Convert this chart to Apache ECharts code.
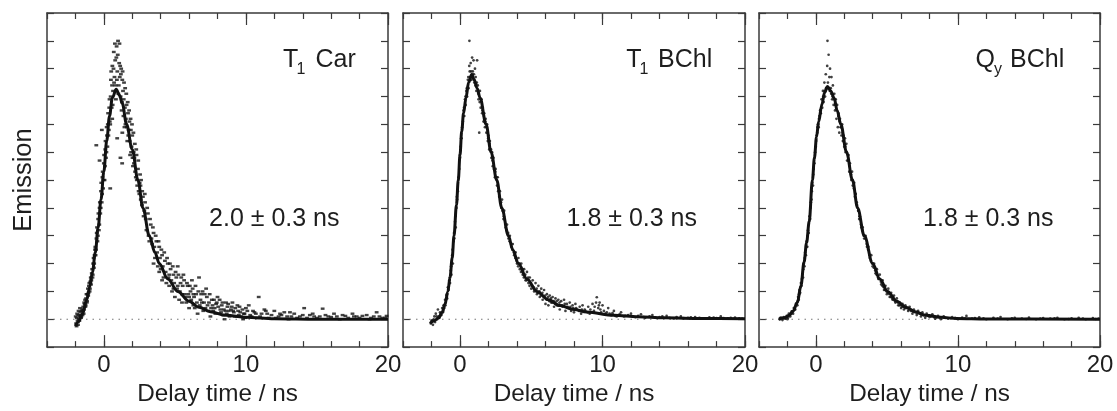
<!DOCTYPE html>
<html><head><meta charset="utf-8">
<script src="https://cdn.jsdelivr.net/npm/echarts@6/dist/echarts.min.js"></script>
<style>html,body{margin:0;padding:0;background:#fff}#c{width:1117px;height:411px}</style>
</head><body><div id="c"></div>
<script>
const FONT = '"Liberation Sans", Arial, Helvetica, sans-serif';
const majorTicks = [0, 10, 20];
const xName = 'Delay time / ns';
const yName = 'Emission';
const stateMain = ['T', 'T', 'Q'];
const stateSub = ['1', '1', 'y'];
const stateRest = ['Car', 'BChl', 'BChl'];
const lifetimes = ['2.0 ± 0.3 ns', '1.8 ± 0.3 ns', '1.8 ± 0.3 ns'];

const carFit = [[-2,-0.25],[-1.8,-0.1],[-1.5,0.2],[-1.2,0.7],[-1.0,1.15],[-0.8,1.7],[-0.6,2.4],[-0.4,3.3],[-0.2,4.3],[0,5.3],[0.2,6.4],[0.4,7.3],[0.6,7.95],[0.87,8.26],[1.1,8.05],[1.3,7.75],[1.6,7.0],[2.0,6.1],[2.4,5.0],[2.75,4.0],[3.2,3.0],[3.6,2.4],[3.9,2.0],[4.5,1.45],[5.2,1.0],[6.0,0.65],[6.7,0.43],[7.5,0.27],[8.6,0.14],[10,0.07],[12,0.02],[15,0],[20,0]];
const carPoints = [[-1.95,-0.15],[-1.9,0.05],[-1.85,-0.05],[-1.8,0.15],[-1.75,0.0],[-1.7,0.1],[-1.65,0.25],[-1.6,0.05],[-1.55,0.3],[-1.5,0.15],[-1.45,0.45],[-1.4,0.35],[-1.35,0.55],[-1.3,0.45],[-1.25,0.75],[-1.2,0.6],[-1.15,0.9],[-1.1,0.85],[-1.05,1.2],[-1.0,1.0],[-0.95,1.35],[-0.9,1.25],[-0.85,1.65],[-0.8,1.5],[-0.75,2.0],[-0.7,1.85],[-0.65,2.3],[-0.6,2.6],[-0.55,2.5],[-0.5,3.1],[-0.45,2.8],[-0.4,3.6],[-0.35,3.2],[-0.3,4.0],[-0.25,3.8],[-0.2,4.6],[-0.15,4.2],[-0.1,5.1],[-0.05,4.7],[0.0,5.6],[0.05,5.0],[0.1,6.1],[0.15,5.8],[0.2,6.9],[0.25,6.2],[0.3,7.4],[0.35,6.8],[0.4,7.9],[0.45,7.0],[0.5,8.6],[0.55,7.6],[0.6,9.1],[0.65,8.2],[0.7,9.6],[0.75,8.7],[0.8,9.3],[0.85,7.9],[0.9,9.8],[0.95,8.9],[1.0,10.0],[1.05,8.4],[1.1,9.9],[1.15,9.1],[1.2,8.8],[1.25,7.5],[1.3,8.6],[1.35,8.2],[1.4,7.9],[1.45,6.9],[1.5,8.3],[1.55,7.2],[1.6,7.7],[1.65,6.4],[1.7,7.4],[1.75,6.8],[1.8,7.1],[1.85,5.9],[1.9,6.8],[1.95,6.2],[2.0,6.6],[2.05,5.5],[2.1,6.0],[2.15,5.8],[2.2,5.3],[2.3,5.9],[2.35,4.8],[2.4,5.4],[2.5,4.5],[2.55,5.2],[2.6,4.3],[2.7,4.6],[2.8,3.7],[2.9,4.2],[3.0,3.2],[3.1,3.8],[3.2,2.8],[3.3,3.4],[3.4,2.7],[3.5,3.1],[3.6,2.2],[3.7,2.8],[3.8,1.9],[3.9,2.6],[4.0,1.8],[4.1,2.3],[4.2,1.5],[4.3,2.1],[4.4,1.3],[4.5,2.0],[4.6,1.2],[4.7,1.8],[4.8,1.0],[4.9,1.6],[5.0,0.8],[5.1,1.5],[5.2,1.9],[5.3,0.7],[5.4,1.3],[5.5,0.9],[5.6,1.6],[5.8,0.6],[5.9,1.2],[6.0,0.4],[6.1,1.0],[6.2,1.4],[6.3,0.5],[6.5,0.9],[6.6,0.2],[6.7,1.5],[6.8,0.7],[7.0,0.3],[7.1,0.9],[7.2,1.1],[7.3,0.5],[7.5,0.1],[7.6,0.7],[7.8,0.4],[8.0,0.8],[8.1,0.2],[8.3,0.5],[8.5,0.0],[8.6,0.6],[8.8,0.3],[9.0,0.45],[9.2,0.1],[9.4,0.5],[9.6,0.25],[9.8,0.0],[10.0,0.4],[10.3,0.15],[10.5,0.3],[10.9,0.8],[11.0,0.1],[11.3,0.35],[11.6,0.05],[12.0,0.3],[12.3,0.1],[12.7,0.25],[13.0,0.0],[13.4,0.2],[13.8,0.1],[14.1,0.4],[14.5,0.15],[15.0,0.05],[15.4,0.38],[15.8,0.1],[16.2,0.2],[16.6,0.0],[17.0,0.12],[17.5,0.2],[18.0,0.05],[18.5,0.15],[19.0,0.1],[19.2,0.25],[19.6,0.05],[19.9,0.12],[0.45,4.7],[1.17,5.8],[1.29,5.6],[0.94,6.5],[0.59,7.2],[1.3,6.7],[-0.53,6.25],[-0.14,6.8],[-0.3,5.7],[3.5,2.0],[3.9,1.7],[4.1,1.4],[4.6,1.6],[4.9,1.1],[5.2,1.2],[5.5,0.6],[5.7,0.9],[6.0,0.8],[6.3,0.9],[6.4,0.4],[6.9,0.6],[7.4,0.6],[7.7,0.3],[7.9,0.55],[8.2,0.35],[8.4,0.15],[8.7,0.45],[9.1,0.3],[9.5,0.15],[9.9,0.2],[10.2,0.5],[10.7,0.2],[11.5,0.2],[12.5,0.15],[13.2,0.1],[14.8,0.1],[16.0,0.08],[17.8,0.1],[18.8,0.05],
[-1.98,0.1],[-1.92,-0.25],[-1.88,0.2],[-1.82,-0.2],[-1.78,0.3],[-1.72,-0.05],[-1.68,0.4],[-1.62,0.15],[-1.58,0.1],[-1.52,0.35],[-1.48,0.3],[-1.42,0.2],[-1.38,0.6],[-1.32,0.7],[-1.28,0.5],[-1.22,0.9],[-1.18,0.65],[-1.12,1.1],[-1.08,0.95],[-1.02,1.3],[-0.98,1.1],[-0.92,1.5],[-0.88,1.4],[-0.82,1.8],[-0.78,1.6],[-0.72,2.2],[-0.68,2.0],[-0.62,2.5],[-0.58,2.3],[-0.52,2.9],[-0.48,3.3],[-0.42,3.0],[-0.38,3.8],[-0.32,3.4],[-0.28,4.2],[-0.22,4.0],[-0.18,4.9],[-0.12,4.5],[-0.08,5.3],[-0.02,5.0],[0.02,5.9],[0.08,5.5],[0.12,6.4],[0.18,6.0],[0.22,6.6],[0.28,7.0],[0.32,6.6],[0.38,7.6],[0.42,7.1],[0.48,8.0],[0.52,8.9],[0.58,8.4],[0.62,7.7],[0.68,9.0],[0.72,8.5],[0.78,9.9],[0.82,8.4],[0.88,9.4],[0.92,8.6],[0.98,9.5],[1.02,8.1],[1.08,9.2],[1.12,8.7],[1.18,8.0],[1.22,9.0],[1.28,7.8],[1.32,8.9],[1.38,7.3],[1.42,8.5],[1.48,7.6],[1.52,7.0],[1.58,8.1],[1.62,6.9],[1.68,7.8],[1.72,6.6],[1.78,7.5],[1.82,6.4],[1.88,7.2],[1.92,6.0],[1.98,7.0],[2.02,5.8],[2.08,6.7],[2.12,5.6],[2.18,6.3],[2.25,5.1],[2.28,6.1],[2.32,5.0],[2.42,5.7],[2.45,4.6],[2.52,4.9],[2.58,4.8],[2.62,5.0],[2.68,4.1],[2.75,4.4],[2.85,3.9],[2.88,4.5],[2.95,3.6],[3.05,4.0],[3.15,3.0],[3.25,3.6],[3.35,2.9],[3.45,3.3],[3.55,2.6],[3.65,3.0],[3.75,2.4],[3.85,2.8],[3.95,2.2],[4.05,2.5],[4.15,1.9],[4.25,2.4],[4.35,1.7],[4.45,2.2],[4.55,1.5],[4.65,2.0],[4.75,1.4],[4.85,1.9],[4.95,1.3],[5.05,1.7],[5.15,1.1],[5.25,1.6],[5.35,1.0],[5.45,1.5],[5.55,1.2],[5.65,1.4],[5.75,0.8],[5.85,1.3],[5.95,0.9],[6.05,1.2],[6.15,0.7],[6.25,1.1],[6.35,0.8],[6.45,1.2],[6.55,0.6],[6.65,1.0],[6.75,0.5],[6.85,0.9],[6.95,1.0],[7.05,0.6],[7.15,0.4],[7.25,0.8],[7.35,0.3],[7.45,0.9],[7.55,0.4],[7.65,0.5],[7.75,0.7],[7.85,0.2],[7.95,0.6],[8.05,0.45],[8.15,0.7],[8.25,0.25],[8.35,0.6],[8.45,0.35],[8.55,0.3],[8.65,0.2],[8.75,0.55],[8.85,0.1],[8.95,0.35],[9.05,0.6],[9.15,0.25],[9.25,0.4],[9.35,0.1],[9.45,0.3],[9.55,0.45],[9.65,0.1],[9.75,0.35],[9.85,0.2],[9.95,0.05],[10.1,0.3],[10.4,0.1],[10.6,0.25],[10.8,0.05],[11.1,0.2],[11.4,0.3],[11.8,0.15],[12.1,0.05],[12.4,0.2],[12.9,0.1],[13.1,0.25],[13.6,0.05],[14.0,0.15],[14.3,0.05],[14.7,0.2],[15.2,0.1],[15.6,0.15],[16.4,0.1],[16.8,0.15],[17.2,0.05],[17.6,0.1],[18.2,0.12],[18.7,0.0],[19.4,0.1],[19.8,0.05]];

const bchlFit = [[-2.1,-0.15],[-1.8,-0.05],[-1.5,0.05],[-1.25,0.25],[-1.05,0.55],[-0.85,1.0],[-0.7,1.5],[-0.55,2.2],[-0.42,3.0],[-0.25,4.1],[-0.12,5.0],[0,5.9],[0.12,6.75],[0.25,7.4],[0.42,7.95],[0.6,8.5],[0.82,8.79],[1.0,8.6],[1.2,8.3],[1.41,7.95],[1.83,7.0],[2.18,6.0],[2.58,5.0],[2.93,4.0],[3.4,3.0],[3.7,2.5],[4.1,2.0],[4.7,1.45],[5.39,1.0],[6.2,0.7],[7.03,0.49],[8.0,0.35],[8.9,0.26],[10.8,0.14],[12.5,0.09],[14.3,0.05],[17,0.03],[20,0.02]];
const bchlPoints = [[-2.05,-0.15],[-1.95,-0.05],[-1.9,-0.2],[-1.8,0.1],[-1.75,-0.1],[-1.7,0.2],[-1.6,0.0],[-1.55,0.35],[-1.5,0.1],[-1.45,0.05],[-1.4,0.25],[-1.3,0.15],[-1.25,0.4],[-1.2,0.25],[-1.15,0.5],[-1.1,0.4],[-1.05,0.7],[-1.0,0.6],[-0.95,0.85],[-0.9,0.75],[-0.85,1.15],[-0.8,1.05],[-0.75,1.4],[-0.7,1.3],[-0.65,1.75],[-0.6,1.6],[-0.55,2.3],[-0.5,2.0],[-0.45,2.8],[-0.4,2.9],[-0.35,3.5],[-0.3,3.3],[-0.25,4.0],[-0.2,4.3],[-0.15,4.6],[-0.1,5.1],[-0.05,5.4],[0.0,5.8],[0.05,6.2],[0.1,6.5],[0.15,6.9],[0.2,7.1],[0.25,7.5],[0.3,7.3],[0.35,7.9],[0.4,7.7],[0.45,8.2],[0.5,8.0],[0.55,8.6],[0.6,8.3],[0.65,9.1],[0.66,10.0],[0.7,8.7],[0.75,9.2],[0.8,8.6],[0.85,9.4],[0.9,8.9],[0.95,9.3],[1.0,8.5],[1.05,9.0],[1.1,8.7],[1.15,8.2],[1.2,9.3],[1.25,8.4],[1.3,7.9],[1.35,6.7],[1.4,8.2],[1.45,7.6],[1.5,7.9],[1.55,7.4],[1.6,7.6],[1.65,7.1],[1.7,7.4],[1.75,6.9],[1.8,7.2],[1.85,6.7],[1.9,7.0],[1.95,6.4],[2.0,6.6],[2.05,6.1],[2.1,6.4],[2.2,5.8],[2.25,6.0],[2.3,5.5],[2.35,5.8],[2.45,5.1],[2.5,5.4],[2.6,4.8],[2.65,5.1],[2.75,4.4],[2.8,4.6],[2.9,4.0],[2.95,4.3],[3.05,3.6],[3.1,3.9],[3.2,3.3],[3.3,3.4],[3.4,2.9],[3.5,3.0],[3.6,2.6],[3.7,2.7],[3.8,2.3],[3.9,2.4],[4.0,2.0],[4.1,2.2],[4.2,1.8],[4.3,2.0],[4.4,1.6],[4.5,1.8],[4.6,1.4],[4.7,1.7],[4.8,1.3],[4.9,1.5],[5.0,1.1],[5.1,1.4],[5.2,1.0],[5.3,1.3],[5.4,0.9],[5.5,1.2],[5.6,0.8],[5.7,1.1],[5.8,0.7],[5.9,1.05],[6.0,0.55],[6.1,0.9],[6.2,0.5],[6.3,0.85],[6.4,0.6],[6.5,0.8],[6.6,0.45],[6.7,0.75],[6.8,0.5],[6.9,0.7],[7.0,0.35],[7.1,0.65],[7.2,0.45],[7.3,0.7],[7.4,0.3],[7.5,0.55],[7.6,0.4],[7.7,0.6],[7.8,0.3],[7.9,0.5],[8.0,0.25],[8.1,0.55],[8.2,0.35],[8.4,0.45],[8.5,0.2],[8.6,0.5],[8.8,0.3],[9.0,0.45],[9.1,0.2],[9.3,0.55],[9.4,0.3],[9.6,0.79],[9.7,0.4],[9.8,0.6],[9.9,0.25],[10.0,0.5],[10.2,0.2],[10.4,0.4],[10.6,0.15],[10.8,0.3],[11.0,0.1],[11.3,0.25],[11.6,0.12],[12.0,0.2],[12.3,0.08],[12.7,0.18],[13.0,0.05],[13.5,0.15],[14.0,0.08],[14.5,0.12],[15.0,0.03],[15.5,0.1],[16.0,0.05],[16.5,0.08],[17.0,0.02],[17.5,0.07],[18.0,0.04],[18.3,0.1],[18.8,0.03],[19.3,0.06],[19.8,0.02],
[-2.0,-0.05],[-1.85,0.0],[-1.65,0.1],[-1.35,0.2],[-1.18,0.3],[-1.02,0.5],[-0.92,0.9],[-0.82,1.1],[-0.72,1.5],[-0.62,1.9],[-0.52,2.5],[-0.42,3.1],[-0.32,3.7],[-0.22,4.4],[-0.12,5.0],[-0.02,5.9],[0.08,6.5],[0.18,7.0],[0.28,7.6],[0.38,8.0],[0.48,8.3],[0.58,8.7],[0.68,8.9],[0.78,8.9],[0.88,8.8],[0.98,8.8],[1.08,8.4],[1.18,8.5],[1.28,8.1],[1.38,7.8],[1.48,7.9],[1.58,7.5],[1.68,7.3],[1.78,7.1],[1.88,6.9],[1.98,6.5],[2.08,6.3],[2.18,6.1],[2.28,5.7],[2.38,5.4],[2.48,5.3],[2.58,5.1],[2.68,4.6],[2.78,4.4],[2.88,4.2],[2.98,3.9],[3.08,3.7],[3.18,3.4],[3.28,3.2],[3.38,3.1],[3.48,2.8],[3.58,2.7],[3.68,2.5],[3.78,2.4],[3.88,2.2],[3.98,2.1],[4.08,1.9],[4.18,2.0],[4.28,1.7],[4.38,1.8],[4.48,1.5],[4.58,1.6],[4.68,1.4],[4.78,1.5],[4.88,1.2],[4.98,1.3],[5.08,1.2],[5.18,1.15],[5.28,1.05],[5.38,1.1],[5.48,0.95],[5.58,1.0],[5.68,0.85],[5.78,0.95],[5.88,0.8],[5.98,0.85],[6.08,0.7],[6.18,0.8],[6.28,0.65],[6.38,0.75],[6.48,0.6],[6.58,0.65],[6.68,0.55],[6.78,0.65],[6.88,0.5],[6.98,0.6],[7.15,0.5],[7.35,0.55],[7.55,0.45],[7.75,0.45],[7.95,0.4],[8.15,0.4],[8.35,0.3],[8.55,0.35],[8.75,0.35],[8.95,0.25],[9.15,0.35],[9.45,0.45],[9.55,0.6],[9.75,0.5],[9.85,0.35],[10.1,0.3],[10.3,0.25],[10.5,0.2],[10.7,0.22],[10.9,0.12],[11.2,0.18],[11.5,0.1],[11.8,0.15],[12.1,0.1],[12.5,0.12],[12.9,0.08],[13.3,0.1],[13.7,0.06],[14.2,0.1],[14.7,0.05],[15.2,0.08],[15.7,0.04],[16.2,0.07],[16.8,0.05],[17.3,0.03],[17.8,0.06],[18.5,0.04],[19.0,0.05],[19.6,0.03]];

const qyFit = [[-2.6,0.0],[-2.2,0.05],[-1.88,0.14],[-1.6,0.3],[-1.3,0.6],[-1.05,1.2],[-0.83,2.05],[-0.65,2.75],[-0.47,3.5],[-0.24,5.0],[-0.1,5.8],[0.05,6.55],[0.2,7.1],[0.42,7.7],[0.62,8.15],[0.82,8.36],[1.05,8.2],[1.29,7.95],[1.5,7.5],[1.76,7.0],[2.16,6.0],[2.58,5.0],[2.94,4.0],[3.41,3.0],[4.0,2.0],[4.5,1.45],[5.05,1.0],[5.7,0.65],[6.35,0.43],[7.0,0.27],[7.76,0.14],[8.8,0.07],[9.9,0.03],[12,0.01],[20,0.0]];
const qyPoints = [[-2.55,0.0],[-2.45,0.05],[-2.35,-0.03],[-2.25,0.08],[-2.15,0.02],[-2.05,0.12],[-1.95,0.05],[-1.9,0.2],[-1.8,0.1],[-1.7,0.28],[-1.6,0.2],[-1.55,0.4],[-1.45,0.35],[-1.4,0.55],[-1.3,0.5],[-1.25,0.8],[-1.2,0.7],[-1.15,1.05],[-1.1,0.95],[-1.05,1.3],[-1.0,1.2],[-0.95,1.6],[-0.9,1.5],[-0.85,2.0],[-0.8,1.9],[-0.75,2.4],[-0.7,2.3],[-0.65,2.8],[-0.6,2.6],[-0.55,3.2],[-0.5,3.1],[-0.45,3.7],[-0.4,3.6],[-0.35,4.2],[-0.3,4.3],[-0.25,4.9],[-0.2,4.8],[-0.15,5.4],[-0.1,5.6],[-0.05,6.0],[0.0,6.2],[0.05,6.6],[0.1,6.7],[0.15,7.0],[0.2,6.9],[0.25,7.3],[0.3,7.5],[0.35,7.4],[0.4,7.9],[0.45,7.6],[0.5,8.2],[0.55,7.8],[0.6,8.5],[0.65,8.0],[0.7,8.8],[0.75,8.3],[0.8,9.1],[0.82,10.0],[0.85,8.5],[0.9,9.5],[0.95,8.7],[1.0,9.0],[1.05,8.3],[1.1,8.7],[1.15,7.9],[1.2,8.4],[1.25,7.7],[1.3,8.1],[1.35,7.5],[1.4,7.9],[1.45,7.2],[1.5,7.7],[1.55,6.9],[1.6,7.4],[1.65,6.7],[1.7,7.2],[1.75,6.9],[1.8,6.6],[1.85,7.0],[1.9,6.4],[1.95,6.6],[2.0,6.2],[2.05,6.5],[2.1,6.0],[2.15,6.3],[2.2,5.7],[2.3,5.9],[2.35,5.3],[2.4,5.6],[2.5,5.0],[2.55,5.3],[2.6,4.8],[2.7,4.9],[2.75,4.4],[2.8,4.5],[2.9,4.1],[3.0,3.9],[3.05,3.6],[3.1,3.7],[3.2,3.3],[3.3,3.3],[3.4,2.9],[3.5,3.0],[3.6,2.6],[3.7,2.6],[3.8,2.2],[3.9,2.3],[4.0,1.9],[4.1,2.0],[4.2,1.65],[4.3,1.8],[4.4,1.45],[4.5,1.6],[4.6,1.25],[4.7,1.4],[4.8,1.05],[4.9,1.2],[5.0,0.9],[5.1,1.1],[5.2,0.8],[5.3,0.95],[5.4,0.7],[5.5,0.85],[5.6,0.6],[5.7,0.75],[5.8,0.5],[5.9,0.6],[6.0,0.4],[6.1,0.55],[6.2,0.35],[6.3,0.5],[6.5,0.3],[6.6,0.45],[6.8,0.2],[6.9,0.35],[7.1,0.15],[7.2,0.3],[7.4,0.1],[7.5,0.25],[7.7,0.05],[7.8,0.2],[8.0,0.08],[8.2,0.18],[8.4,0.02],[8.6,0.12],[8.8,0.0],[9.0,0.1],[9.3,0.03],[9.6,0.08],[10.0,0.0],[10.3,0.06],[10.6,0.12],[11.0,0.02],[11.5,0.07],[12.0,0.0],[12.5,0.05],[13.0,0.08],[13.5,0.0],[14.0,0.05],[14.5,0.02],[15.0,0.06],[15.5,0.0],[16.0,0.04],[16.5,0.02],[17.0,0.05],[17.5,0.0],[18.0,0.03],[18.5,0.05],[19.0,0.0],[19.5,0.04],[19.9,0.02],
[-2.5,0.05],[-2.3,0.03],[-2.1,0.08],[-2.0,0.0],[-1.85,0.15],[-1.75,0.2],[-1.65,0.25],[-1.5,0.35],[-1.35,0.55],[-1.28,0.65],[-1.18,0.9],[-1.08,1.15],[-0.98,1.45],[-0.88,1.8],[-0.78,2.2],[-0.68,2.6],[-0.58,3.0],[-0.48,3.5],[-0.38,4.0],[-0.28,4.6],[-0.18,5.2],[-0.08,5.8],[0.02,6.4],[0.12,6.9],[0.22,7.2],[0.32,7.4],[0.42,7.7],[0.52,8.0],[0.62,8.2],[0.72,8.3],[0.88,8.3],[0.98,8.2],[1.08,8.1],[1.18,8.0],[1.28,7.9],[1.38,7.7],[1.48,7.5],[1.58,7.3],[1.68,7.1],[1.78,6.9],[1.88,6.7],[1.98,6.4],[2.08,6.2],[2.18,6.0],[2.28,5.7],[2.38,5.5],[2.48,5.2],[2.58,5.0],[2.68,4.7],[2.78,4.5],[2.88,4.2],[2.98,3.9],[3.08,3.7],[3.18,3.4],[3.28,3.2],[3.38,3.0],[3.48,2.9],[3.58,2.7],[3.68,2.5],[3.78,2.3],[3.88,2.1],[3.98,2.0],[4.08,1.85],[4.18,1.75],[4.28,1.6],[4.38,1.5],[4.48,1.45],[4.58,1.35],[4.68,1.2],[4.78,1.15],[4.88,1.05],[4.98,1.0],[5.08,0.95],[5.18,0.9],[5.28,0.8],[5.38,0.75],[5.48,0.7],[5.58,0.65],[5.68,0.65],[5.78,0.6],[5.88,0.5],[5.98,0.5],[6.08,0.45],[6.18,0.45],[6.28,0.4],[6.4,0.4],[6.55,0.35],[6.7,0.3],[6.85,0.28],[7.0,0.25],[7.15,0.22],[7.3,0.2],[7.45,0.18],[7.6,0.15],[7.75,0.14],[7.9,0.12],[8.1,0.1],[8.3,0.08],[8.5,0.07],[8.7,0.06],[9.1,0.05],[9.5,0.04],[9.8,0.05],[10.5,0.02],[11.2,0.04],[11.8,0.03],[12.8,0.02],[13.8,0.03],[14.8,0.01],[15.8,0.02],[16.8,0.03],[17.8,0.01],[18.8,0.02],[19.7,0.01]];

const fits = [carFit, bchlFit, qyFit];
const points = [carPoints, bchlPoints, qyPoints];

const AX = '#3a3a3a';
const TXT = '#1e1e1e';
const grids = [
  {left: 47, top: 13, width: 341, height: 340},
  {left: 403, top: 13, width: 342, height: 340},
  {left: 759, top: 13, width: 341, height: 340}
];
const xAxis = [], yAxis = [], series = [], graphic = [];
const lineAx = {show: true, onZero: false, lineStyle: {color: AX, width: 1.5}};
grids.forEach((g, i) => {
  const base = {gridIndex: i, type: 'value', min: -4, max: 20, splitLine: {show: false}};
  xAxis.push(Object.assign({}, base, {position: 'bottom', interval: 2, axisLine: lineAx,
    axisTick: {show: true, inside: true, length: 6, lineStyle: {color: AX, width: 1.2}}, axisLabel: {show: false}}));
  xAxis.push(Object.assign({}, base, {position: 'bottom', axisLine: {show: false, onZero: false},
    axisTick: {show: true, inside: true, length: 12, customValues: majorTicks, lineStyle: {color: AX, width: 1.2}},
    axisLabel: {show: true, customValues: majorTicks, showMinLabel: true, showMaxLabel: true, fontSize: 24, color: TXT, fontFamily: FONT, margin: 6},
    name: xName, nameLocation: 'middle', nameGap: 28, nameTextStyle: {fontSize: 24.3, color: TXT, fontFamily: FONT}}));
  xAxis.push(Object.assign({}, base, {position: 'top', interval: 2, axisLine: lineAx,
    axisTick: {show: true, inside: true, length: 6, lineStyle: {color: AX, width: 1.2}}, axisLabel: {show: false}}));
  xAxis.push(Object.assign({}, base, {position: 'top', axisLine: {show: false, onZero: false},
    axisTick: {show: true, inside: true, length: 12, customValues: majorTicks, lineStyle: {color: AX, width: 1.2}},
    axisLabel: {show: false}}));
  const ybase = {gridIndex: i, type: 'value', min: -1, max: 11, interval: 1, splitLine: {show: false},
    axisLine: lineAx, axisTick: {show: true, inside: true, length: 7, lineStyle: {color: AX, width: 1.2}}, axisLabel: {show: false}};
  yAxis.push(Object.assign({}, ybase, {position: 'left',
    name: i === 0 ? yName : '', nameLocation: 'middle', nameGap: 10, nameTextStyle: {fontSize: 25.5, color: TXT, fontFamily: FONT}}));
  yAxis.push(Object.assign({}, ybase, {position: 'right'}));

  series.push({type: 'line', xAxisIndex: 4 * i, yAxisIndex: 2 * i, data: [[-4, 0], [20, 0]], symbol: 'none', silent: true, z: 1,
    lineStyle: {color: '#777', width: 1, type: [1.5, 5]}});
  series.push({type: 'scatter', xAxisIndex: 4 * i, yAxisIndex: 2 * i, data: points[i], z: 2, large: false,
    symbol: i === 0 ? 'rect' : 'circle', symbolSize: i === 0 ? [3.8, 2.4] : 2.7, itemStyle: {color: '#111'}});
  series.push({type: 'line', xAxisIndex: 4 * i, yAxisIndex: 2 * i, data: fits[i], symbol: 'none', z: 3,
    smooth: 0.35, smoothMonotone: 'x', lineStyle: {color: '#111', width: 3}});
});

const titleX = [[283, 296.5, 315.5], [626.3, 639.5, 658], [975.5, 994, 1010]];
const lifeX = [339.5, 697, 1053.5];
for (let i = 0; i < 3; i++) {
  graphic.push({type: 'text', x: titleX[i][0], y: 60, style: {text: stateMain[i], font: '25px ' + FONT, fill: TXT, textAlign: 'left', textVerticalAlign: 'middle'}});
  graphic.push({type: 'text', x: titleX[i][1], y: 69.5, style: {text: stateSub[i], font: '16px ' + FONT, fill: TXT, textAlign: 'left', textVerticalAlign: 'middle'}});
  graphic.push({type: 'text', x: titleX[i][2], y: 60, style: {text: stateRest[i], font: '25px ' + FONT, fill: TXT, textAlign: 'left', textVerticalAlign: 'middle'}});
  graphic.push({type: 'text', x: lifeX[i], y: 218.7, style: {text: lifetimes[i], font: '25px ' + FONT, fill: TXT, textAlign: 'right', textVerticalAlign: 'middle'}});
}

const chart = echarts.init(document.getElementById('c'), null, {renderer: 'canvas'});
chart.setOption({animation: false, backgroundColor: '#fff', grid: grids, xAxis, yAxis, series, graphic});
</script></body></html>
